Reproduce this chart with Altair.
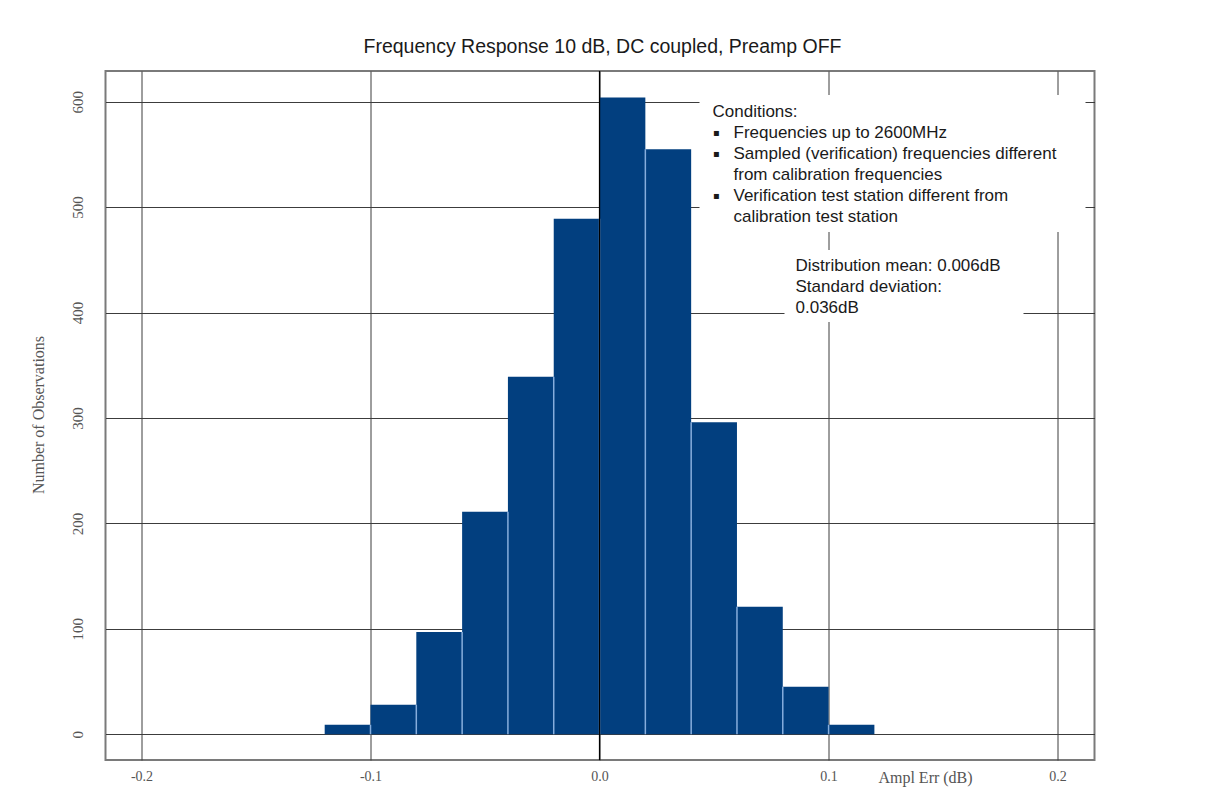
import altair as alt
import pandas as pd

# ---- data ----
bin_start = [-0.12, -0.10, -0.08, -0.06, -0.04, -0.02, 0.00, 0.02, 0.04, 0.06, 0.08, 0.10]
bin_end = [-0.10, -0.08, -0.06, -0.04, -0.02, 0.00, 0.02, 0.04, 0.06, 0.08, 0.10, 0.12]
counts = [9, 28, 97, 211, 339, 489, 604, 555, 296, 121, 45, 9]

x_ticks = [-0.2, -0.1, 0.0, 0.1, 0.2]
y_ticks = [0, 100, 200, 300, 400, 500, 600]

title_text = "Frequency Response 10 dB, DC coupled, Preamp OFF"
x_title = "Ampl Err (dB)"
y_title = "Number of Observations"
cond_head = "Conditions:"
cond_lines = [
    ("Frequencies up to 2600MHz", True),
    ("Sampled (verification) frequencies different", True),
    ("from calibration frequencies", False),
    ("Verification test station different from", True),
    ("calibration test station", False),
]
stats_lines = ["Distribution mean: 0.006dB", "Standard deviation:", "0.036dB"]

bars = pd.DataFrame({"start": bin_start, "end": bin_end, "count": counts})
seps = pd.DataFrame({
    "edge": bin_end[:-1],
    "top": [min(a, b) for a, b in zip(counts[:-1], counts[1:])],
})

W, H = 989, 689
xs = alt.Scale(domain=[-0.2157, 0.2161], nice=False, zero=False)
ys = alt.Scale(domain=[-24.4, 629.1], nice=False, zero=False)

one = pd.DataFrame({"k": [0]})

x_label_expr = "replace(format(datum.value, '.1f'), '\u2212', '-')"

base_bars = alt.Chart(bars).mark_bar(color="#023F7F", stroke=None).encode(
    x=alt.X("start:Q", scale=xs, axis=alt.Axis(
        values=x_ticks, labelExpr=x_label_expr, grid=True, gridColor="#3c3c3c", gridWidth=1,
        domain=False, ticks=False, tickSize=0, labelFont="Liberation Serif",
        labelFontSize=14, labelColor="#555555", labelPadding=9, title=None)),
    x2="end:Q",
    y=alt.Y("count:Q", scale=ys, axis=alt.Axis(
        values=y_ticks, grid=True, gridColor="#3c3c3c", gridWidth=1,
        domain=False, ticks=False, tickSize=0, labelFont="Liberation Serif",
        labelFontSize=15, labelColor="#555555", labelAngle=270,
        labelAlign="center", labelBaseline="middle", labelPadding=28, title=None)),
    y2=alt.datum(0),
)

sep_rules = alt.Chart(seps).mark_rule(color="#86ADDC", strokeWidth=1.5).encode(
    x=alt.X("edge:Q", scale=xs),
    y=alt.Y("top:Q", scale=ys),
    y2=alt.datum(0),
)

zero_line = alt.Chart(one).mark_rule(color="#000000", strokeWidth=1.3).encode(
    x=alt.X("z:Q", scale=xs),
    y=alt.value(0), y2=alt.value(H),
).transform_calculate(z="0")

box1 = alt.Chart(one).mark_rect(color="white").encode(
    x=alt.value(594), x2=alt.value(980), y=alt.value(24), y2=alt.value(161))
box2 = alt.Chart(one).mark_rect(color="white").encode(
    x=alt.value(679), x2=alt.value(918), y=alt.value(179), y2=alt.value(251))

ann_font = "Liberation Sans"
ann_size = 17
layers = [base_bars, sep_rules, zero_line, box1, box2]

layers.append(alt.Chart(one).mark_text(
    text=cond_head, align="left", baseline="middle", font=ann_font,
    fontSize=ann_size, color="#1a1a1a", x=607, y=41))
ys_lines = [62, 83, 104, 125, 146]
for (txt, bullet), yy in zip(cond_lines, ys_lines):
    if bullet:
        layers.append(alt.Chart(one).mark_text(
            text="▪", align="center", baseline="middle", font="DejaVu Sans",
            fontSize=10, color="#1a1a1a", x=611, y=yy))
    layers.append(alt.Chart(one).mark_text(
        text=txt, align="left", baseline="middle", font=ann_font,
        fontSize=ann_size, color="#1a1a1a", x=628, y=yy))
for txt, yy in zip(stats_lines, [195, 216, 237]):
    layers.append(alt.Chart(one).mark_text(
        text=txt, align="left", baseline="middle", font=ann_font,
        fontSize=ann_size, color="#1a1a1a", x=690, y=yy))

layers.append(alt.Chart(one).mark_text(
    text=title_text, align="center", baseline="middle", font=ann_font,
    fontSize=19.5, color="#1a1a1a", x=497, y=-24))
layers.append(alt.Chart(one).mark_text(
    text=x_title, align="center", baseline="middle", font="Liberation Serif",
    fontSize=16, color="#555555", x=820, y=707))
layers.append(alt.Chart(one).mark_text(
    text=y_title, align="center", baseline="middle", font="Liberation Serif",
    fontSize=16, color="#555555", angle=270, x=-67, y=344))

chart = alt.layer(*layers).properties(
    width=W, height=H,
    autosize="none",
    background="white",
    padding={"left": 97.5, "top": 63, "right": 120, "bottom": 30},
).configure_view(stroke="#7a7a7a", strokeWidth=2)

chart.save("out.html", embed_options={"renderer": "svg", "actions": False})
